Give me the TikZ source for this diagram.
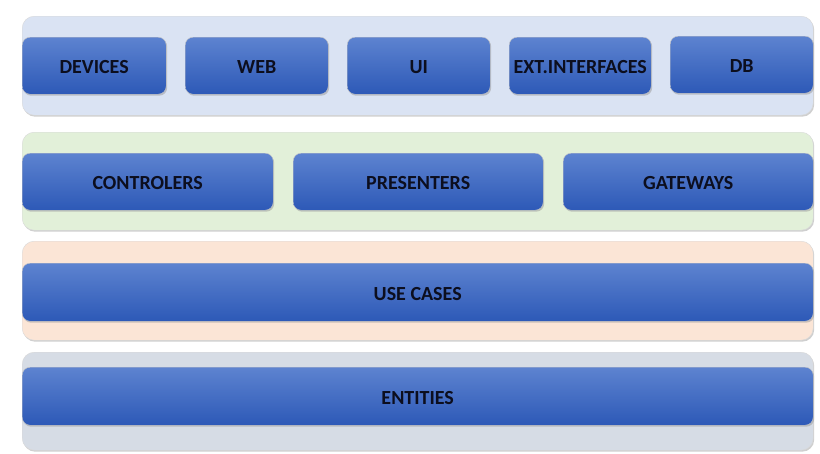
\documentclass[tikz,border=0pt]{standalone}
\usepackage{fontspec}
\setmainfont{Carlito}
\usetikzlibrary{shadows}
\definecolor{lyrweb}{RGB}{218,227,243}
\definecolor{lyradp}{RGB}{226,240,217}
\definecolor{lyruse}{RGB}{251,229,214}
\definecolor{lyrent}{RGB}{214,220,229}
\definecolor{btop}{RGB}{93,131,208}
\definecolor{bbot}{RGB}{45,89,183}
\definecolor{ink}{RGB}{12,14,30}

\begin{document}
\begin{tikzpicture}[x=1pt,y=-1pt,font=\bfseries\fontsize{20}{22}\selectfont,
	layer/.style={draw=gray!30, rounded corners=12pt, anchor=north west, inner sep=0pt,
		drop shadow={shadow xshift=1pt, shadow yshift=-1.5pt, fill=gray!75}},
	comp/.style={draw=gray!45, rounded corners=8pt, anchor=north west, inner sep=0pt,
		top color=btop, bottom color=bbot, text=ink, text height=16pt, text depth=0pt,
		drop shadow={shadow xshift=1pt, shadow yshift=-1.5pt, fill=gray!80}}]
	\useasboundingbox	(0,0) rectangle (820,453);

	% rings
	\node[layer, fill=lyrweb, minimum width=791pt, minimum height=99pt]	(webring) at (22,16) {};
	\node[layer, fill=lyradp, minimum width=791pt, minimum height=98pt]	(adpring) at (22,132) {};
	\node[layer, fill=lyruse, minimum width=791pt, minimum height=99pt]	(usering) at (22,241) {};
	\node[layer, fill=lyrent, minimum width=791pt, minimum height=98pt]	(entring) at (22,352) {};

	% frameworks and drivers
	\node[comp, minimum width=144pt, minimum height=57pt]	(devices) at (22,37) {DEVICES};
	\node[comp, minimum width=143pt, minimum height=57pt]	(web) at (185,37) {WEB};
	\node[comp, minimum width=143pt, minimum height=57pt]	(ui) at (347,37) {UI};
	\node[comp, minimum width=142pt, minimum height=57pt]	(extif) at (509,37) {EXT.INTERFACES};
	\node[comp, minimum width=143pt, minimum height=57pt]	(db) at (670,36) {DB};

	% interface adapters
	\node[comp, minimum width=251pt, minimum height=57pt]	(controlers) at (22,153) {CONTROLERS};
	\node[comp, minimum width=250pt, minimum height=57pt]	(presenters) at (293,153) {PRESENTERS};
	\node[comp, minimum width=250pt, minimum height=57pt]	(gateways) at (563,153) {GATEWAYS};

	% use cases and entities
	\node[comp, minimum width=791pt, minimum height=58pt]	(usecases) at (22,263) {USE CASES};
	\node[comp, minimum width=791pt, minimum height=58pt]	(entities) at (22,367) {ENTITIES};
\end{tikzpicture}
\end{document}
